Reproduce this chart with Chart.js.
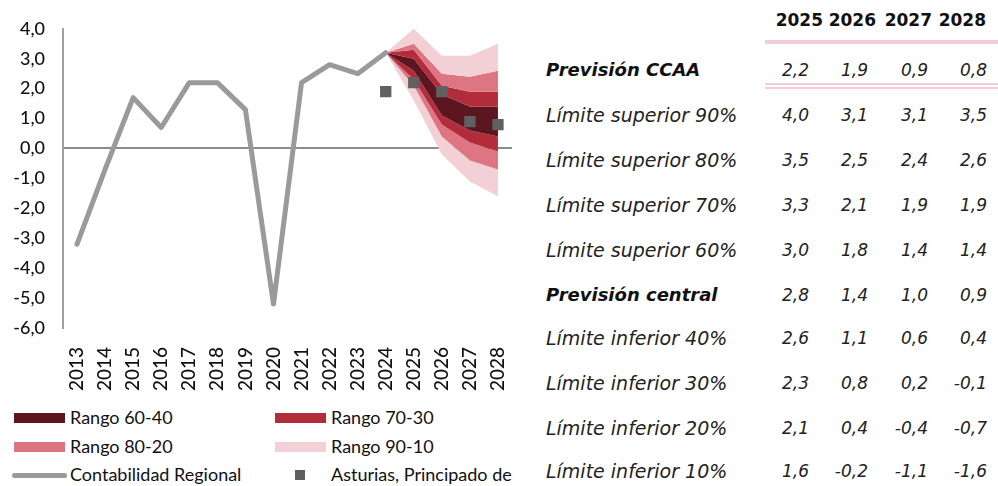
<!DOCTYPE html>
<html><head><meta charset="utf-8">
<script src="https://cdn.jsdelivr.net/npm/chart.js@4"></script>
<style>
html,body{margin:0;padding:0;background:#fff;width:998px;height:486px;overflow:hidden;}
#wrap{position:absolute;left:0;top:0;width:530px;height:405px;}
.lg{position:absolute;font-family:Lato,sans-serif;font-size:18px;color:#111;white-space:nowrap;line-height:20px;}
.sw{position:absolute;}
.tb{position:absolute;white-space:nowrap;font-family:"DejaVu Sans",sans-serif;font-style:italic;font-size:17px;color:#222;line-height:20px;}
.hd{position:absolute;white-space:nowrap;font-family:"DejaVu Sans",sans-serif;font-weight:bold;font-size:17px;color:#111;line-height:20px;text-align:right;}
.hr{position:absolute;background:#f2cdd3;}
</style></head><body>
<div id="wrap"><canvas id="c"></canvas></div>
<div id="legend"></div>
<div id="table"></div>
<script>
const years = ['2013','2014','2015','2016','2017','2018','2019','2020','2021','2022','2023','2024','2025','2026','2027','2028'];
const contabilidadRegional = [-3.2,-0.7,1.7,0.7,2.2,2.2,1.3,-5.2,2.2,2.8,2.5,3.2];
const asturias = [1.9,2.2,1.9,0.9,0.8]; // 2024-2028
const forecastYears = ['2025','2026','2027','2028'];
const previsionCCAA = [2.2,1.9,0.9,0.8];
const sup90 = [4.0,3.1,3.1,3.5];
const sup80 = [3.5,2.5,2.4,2.6];
const sup70 = [3.3,2.1,1.9,1.9];
const sup60 = [3.0,1.8,1.4,1.4];
const central = [2.8,1.4,1.0,0.9];
const inf40 = [2.6,1.1,0.6,0.4];
const inf30 = [2.3,0.8,0.2,-0.1];
const inf20 = [2.1,0.4,-0.4,-0.7];
const inf10 = [1.6,-0.2,-1.1,-1.6];
const yTicks = [4,3,2,1,0,-1,-2,-3,-4,-5,-6];

const C_DARK='#5c1620', C_RED='#b22c3c', C_PINK='#dd7682', C_LIGHT='#f3d0d5', C_GRAY='#9a9a9a', C_SQ='#606060';
const fmt = v => v.toFixed(1).replace('.',',');

const startVal = contabilidadRegional[contabilidadRegional.length-1];
const pre = years.length - forecastYears.length - 1;
const fan = arr => Array(pre).fill(null).concat([startVal], arr);
const bands = [
  [sup90, C_LIGHT],[sup80, C_PINK],[sup70, C_RED],[sup60, C_DARK],
  [inf40, C_RED],[inf30, C_PINK],[inf20, C_LIGHT],[inf10, null]
];
const datasets = bands.map(([arr,col]) => ({
  type:'line', data: fan(arr), borderWidth:0, pointRadius:0, borderColor:'rgba(0,0,0,0)',
  backgroundColor: col || 'rgba(0,0,0,0)', fill: col ? '+1' : false, order:2, tension:0
}));
datasets.push({type:'line', data: contabilidadRegional, borderColor:C_GRAY, borderWidth:5,
  pointRadius:0, fill:false, order:1, borderCapStyle:'round', borderJoinStyle:'round', tension:0});
datasets.push({type:'line', data: Array(pre).fill(null).concat(asturias), showLine:false,
  pointStyle:'rect', pointRadius:8, pointBackgroundColor:C_SQ, pointBorderWidth:0, borderColor:C_SQ, order:0});

new Chart(document.getElementById('c'), {
  type:'line',
  data:{labels:years, datasets},
  options:{
    responsive:true, maintainAspectRatio:false, animation:false,
    plugins:{legend:{display:false}, tooltip:{enabled:false}},
    layout:{padding:{top:27,right:18,left:0,bottom:0}},
    scales:{
      x:{offset:true, grid:{display:false}, border:{display:false},
        ticks:{minRotation:90,maxRotation:90,autoSkip:false,padding:11,color:'#111',
          font:{family:'Lato',size:19,weight:'500'}},
        afterFit:s=>{s.height=77; s.paddingRight=0; s.paddingLeft=0;}},
      y:{min:-6,max:4,
        afterBuildTicks:s=>{s.ticks=yTicks.map(v=>({value:v}));},
        ticks:{callback:v=>fmt(v),padding:18,color:'#111',font:{family:'Lato',size:18,weight:'500'}},
        grid:{drawTicks:false, lineWidth:2, color:c=>c.tick && c.tick.value===0 ? '#8c8c8c':'rgba(0,0,0,0)'},
        border:{display:true,color:'#a0a0a0',width:2},
        afterFit:s=>{s.width=63;}}
    }
  }
});

// legend
const legendItems = [
  {t:'Rango 60-40',c:C_DARK,k:'box',x:14,y:418},
  {t:'Rango 70-30',c:C_RED,k:'box',x:275,y:418},
  {t:'Rango 80-20',c:C_PINK,k:'box',x:14,y:447},
  {t:'Rango 90-10',c:C_LIGHT,k:'box',x:275,y:447},
  {t:'Contabilidad Regional',c:C_GRAY,k:'line',x:14,y:475},
  {t:'Asturias, Principado de',c:C_SQ,k:'sq',x:275,y:475}
];
const lg = document.getElementById('legend');
legendItems.forEach(it=>{
  const s=document.createElement('div'); s.className='sw';
  if(it.k==='box'){s.style.cssText=`left:${it.x}px;top:${it.y-5}px;width:51px;height:10px;background:${it.c}`;}
  else if(it.k==='line'){s.style.cssText=`left:${it.x-2}px;top:${it.y-2}px;width:55px;height:5px;border-radius:3px;background:${it.c}`;}
  else {s.style.cssText=`left:${it.x+20}px;top:${it.y-5}px;width:10px;height:10px;background:${it.c}`;}
  lg.appendChild(s);
  const t=document.createElement('div'); t.className='lg'; t.textContent=it.t;
  t.style.left=(it.x+56)+'px'; t.style.top=(it.y-11)+'px'; lg.appendChild(t);
});

// table
const tb = document.getElementById('table');
const colRight = [823,876,932,986];
const valRight = [809,868,928,987];
forecastYears.forEach((y,i)=>{
  const d=document.createElement('div'); d.className='hd'; d.textContent=y;
  d.style.left=(colRight[i]-60)+'px'; d.style.width='60px'; d.style.top='10px'; tb.appendChild(d);
});
const rows = [
  ['Previsión CCAA', previsionCCAA, true, 70],
  ['Límite superior 90%', sup90, false, 115],
  ['Límite superior 80%', sup80, false, 160],
  ['Límite superior 70%', sup70, false, 205],
  ['Límite superior 60%', sup60, false, 250],
  ['Previsión central', central, true, 295],
  ['Límite inferior 40%', inf40, false, 338],
  ['Límite inferior 30%', inf30, false, 383],
  ['Límite inferior 20%', inf20, false, 428],
  ['Límite inferior 10%', inf10, false, 471]
];
rows.forEach(([lab,vals,bold,yc])=>{
  const l=document.createElement('div'); l.className='tb'; l.textContent=lab;
  l.style.left='546px'; l.style.top=(yc-10)+'px';
  l.style.fontSize = bold ? '18px' : '19px';
  if(bold){l.style.fontWeight='bold';l.style.color='#111';}
  tb.appendChild(l);
  vals.forEach((v,i)=>{
    const d=document.createElement('div'); d.className='tb'; d.textContent=fmt(v);
    d.style.left=(valRight[i]-60)+'px'; d.style.width='60px'; d.style.textAlign='right';
    d.style.top=(yc-10)+'px'; tb.appendChild(d);
  });
});
[[765,40,4],[765,83,2],[765,87,2]].forEach(([x,y,h])=>{
  const d=document.createElement('div'); d.className='hr';
  d.style.cssText+=`left:${x}px;top:${y}px;width:${998-x}px;height:${h}px;`; tb.appendChild(d);
});
</script>
</body></html>
